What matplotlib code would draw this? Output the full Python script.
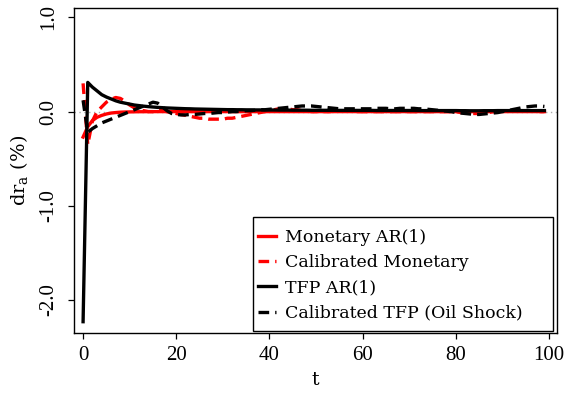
import matplotlib
matplotlib.use("Agg")
import matplotlib.pyplot as plt
from matplotlib.patches import Rectangle
import numpy as np

t = list(range(100))

monetary_ar1 = [
    -0.27, -0.16, -0.095, -0.06, -0.04, -0.025, -0.015, -0.01, -0.006, -0.004,
    -0.003, -0.002, -0.001, -0.001, 0.0, 0.0, 0.0, 0.0, 0.0, 0.0,
    0.0, 0.0, 0.0, 0.0, 0.0, 0.0, 0.0, 0.0, 0.0, 0.0,
    0.0, 0.0, 0.0, 0.0, 0.0, 0.0, 0.0, 0.0, 0.0, 0.0,
    0.0, 0.0, 0.0, 0.0, 0.0, 0.0, 0.0, 0.0, 0.0, 0.0,
    0.0, 0.0, 0.0, 0.0, 0.0, 0.0, 0.0, 0.0, 0.0, 0.0,
    0.0, 0.0, 0.0, 0.0, 0.0, 0.0, 0.0, 0.0, 0.0, 0.0,
    0.0, 0.0, 0.0, 0.0, 0.0, 0.0, 0.0, 0.0, 0.0, 0.0,
    0.0, 0.0, 0.0, 0.0, 0.0, 0.0, 0.0, 0.0, 0.0, 0.0,
    0.0, 0.0, 0.0, 0.0, 0.0, 0.0, 0.0, 0.0, 0.0, 0.0,
]

calibrated_monetary = [
    0.30, -0.35, -0.10, 0.00, 0.05, 0.10, 0.13, 0.15, 0.14, 0.11,
    0.07, 0.04, 0.02, 0.01, 0.00, 0.00, 0.01, 0.01, 0.00, -0.01,
    -0.02, -0.03, -0.04, -0.05, -0.06, -0.07, -0.07, -0.08, -0.08, -0.08,
    -0.08, -0.07, -0.07, -0.06, -0.05, -0.04, -0.03, -0.02, -0.01, 0.00,
    0.01, 0.02, 0.03, 0.03, 0.03, 0.02, 0.02, 0.01, 0.01, 0.00,
    0.00, 0.00, 0.00, 0.00, 0.01, 0.01, 0.01, 0.01, 0.01, 0.00,
    0.00, 0.00, 0.00, 0.00, 0.00, 0.00, 0.00, 0.00, 0.00, 0.00,
    0.00, 0.00, 0.00, 0.00, 0.00, 0.00, 0.00, 0.00, 0.00, 0.00,
    0.00, -0.01, -0.01, -0.02, -0.02, -0.02, -0.01, -0.01, 0.00, 0.00,
    0.01, 0.01, 0.01, 0.01, 0.01, 0.01, 0.01, 0.00, 0.00, 0.00,
]

tfp_ar1 = [
    -2.23, 0.31, 0.26, 0.22, 0.18, 0.155, 0.135, 0.115, 0.10, 0.09,
    0.08, 0.07, 0.064, 0.058, 0.053, 0.049, 0.045, 0.042, 0.039, 0.037,
    0.035, 0.033, 0.031, 0.030, 0.028, 0.027, 0.026, 0.025, 0.024, 0.023,
    0.022, 0.021, 0.021, 0.020, 0.020, 0.019, 0.019, 0.018, 0.018, 0.017,
    0.017, 0.017, 0.016, 0.016, 0.016, 0.015, 0.015, 0.015, 0.015, 0.014,
    0.014, 0.014, 0.014, 0.014, 0.014, 0.013, 0.013, 0.013, 0.013, 0.013,
    0.013, 0.013, 0.013, 0.012, 0.012, 0.012, 0.012, 0.012, 0.012, 0.012,
    0.012, 0.012, 0.011, 0.011, 0.011, 0.011, 0.011, 0.011, 0.011, 0.011,
    0.011, 0.010, 0.010, 0.009, 0.009, 0.009, 0.010, 0.010, 0.010, 0.011,
    0.011, 0.011, 0.011, 0.011, 0.011, 0.011, 0.011, 0.011, 0.011, 0.011,
]

calibrated_tfp = [
    0.12, -0.22, -0.18, -0.15, -0.12, -0.10, -0.08, -0.06, -0.04, -0.02,
    0.00, 0.02, 0.04, 0.06, 0.08, 0.10, 0.09, 0.05, 0.01, -0.02,
    -0.03, -0.035, -0.035, -0.03, -0.03, -0.025, -0.02, -0.02, -0.015, -0.01,
    -0.01, -0.005, 0.00, 0.00, 0.005, 0.01, 0.01, 0.015, 0.02, 0.02,
    0.025, 0.03, 0.035, 0.04, 0.045, 0.05, 0.055, 0.06, 0.06, 0.06,
    0.055, 0.05, 0.045, 0.04, 0.035, 0.03, 0.03, 0.03, 0.03, 0.03,
    0.03, 0.03, 0.03, 0.035, 0.035, 0.035, 0.03, 0.03, 0.035, 0.035,
    0.035, 0.035, 0.03, 0.03, 0.025, 0.02, 0.015, 0.01, 0.005, 0.0,
    -0.01, -0.015, -0.02, -0.025, -0.03, -0.03, -0.025, -0.02, -0.015, -0.01,
    0.0, 0.01, 0.02, 0.03, 0.04, 0.05, 0.055, 0.06, 0.06, 0.055,
]

series_labels = ["Monetary AR(1)", "Calibrated Monetary", "TFP AR(1)",
                 "Calibrated TFP (Oil Shock)"]
x_ticks = [0, 20, 40, 60, 80, 100]
y_ticks = [-2.0, -1.0, 0.0, 1.0]

plt.rcParams["font.family"] = ["Liberation Serif", "DejaVu Serif"]
wide_serif = ["DejaVu Serif"]

fig = plt.figure(figsize=(5.75, 3.94), dpi=100)
ax = fig.add_axes([0.1287, 0.1548, 0.8400, 0.8249])

ax.axhline(0, color="#aaaaaa", linestyle=(0, (1, 2.5)), linewidth=1.0, zorder=1)

lw = 2.4
dash = (0, (3.2, 1.8))
ax.plot(t, monetary_ar1, color="#ff0000", linewidth=lw, label=series_labels[0],
        solid_joinstyle="round", zorder=2)
ax.plot(t, calibrated_monetary, color="#ff0000", linewidth=lw, linestyle=dash,
        label=series_labels[1], zorder=3)
ax.plot(t, tfp_ar1, color="black", linewidth=lw, label=series_labels[2],
        solid_joinstyle="round", zorder=4)
ax.plot(t, calibrated_tfp, color="black", linewidth=lw, linestyle=dash,
        label=series_labels[3], zorder=5)

ax.set_xlim(-1.95, 101.7)
ax.set_ylim(-2.35, 1.10)
ax.set_xticks(x_ticks)
ax.set_xticklabels([str(v) for v in x_ticks])
ax.set_yticks(y_ticks)
ax.set_yticklabels([f"{v:.1f}" for v in y_ticks], rotation=90, va="center")

ax.tick_params(direction="out", length=4.5, width=0.9, labelsize=15,
               pad=5, colors="black")
ax.tick_params(axis="y", pad=7)
for s in ax.spines.values():
    s.set_linewidth(1.0)
    s.set_color("black")

ax.set_xlabel("t", fontsize=13.5, family=wide_serif, labelpad=4)
ax.set_ylabel(r"dr$_\mathregular{a}$ (%)", fontsize=14, family=wide_serif,
              labelpad=6)

# legend box with roomy right margin, drawn as its own frame
legend_box = Rectangle((0.3706, 0.006), 0.6211, 0.3508, transform=ax.transAxes,
                       facecolor="white", edgecolor="black", linewidth=1.0,
                       zorder=6)
ax.add_patch(legend_box)

leg = ax.legend(loc="lower left", bbox_to_anchor=(0.381, 0.035),
                prop={"family": wide_serif, "size": 12.5}, frameon=False,
                borderaxespad=0.0, handlelength=1.05, handletextpad=0.5,
                labelspacing=0.48, borderpad=0.0)
leg.set_zorder(7)

fig.savefig("out.png", dpi=100)
